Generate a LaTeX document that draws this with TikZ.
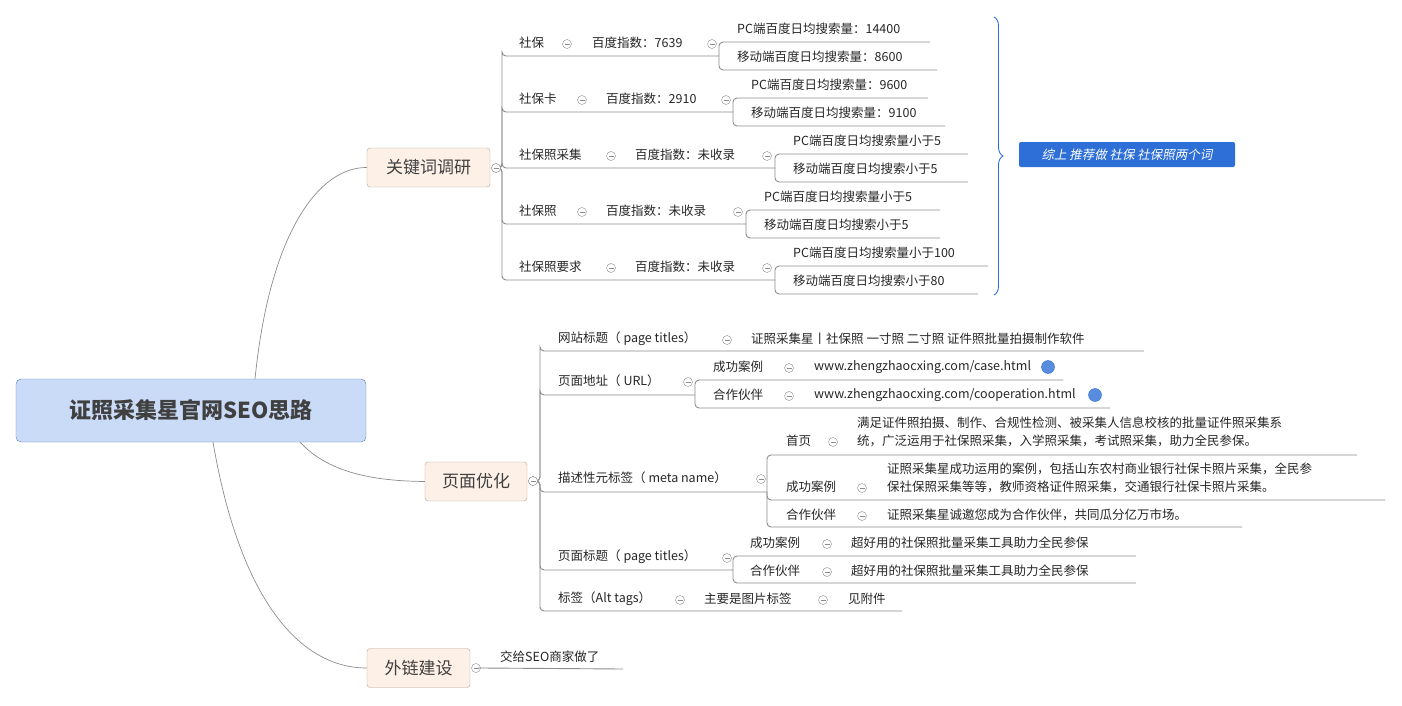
\documentclass[tikz,border=0pt]{standalone}
\usepackage{fontspec}
\setmainfont{Noto Sans CJK SC}
\newfontfamily\slfont[FakeSlant=0.2]{Noto Sans CJK SC}
\usetikzlibrary{decorations.pathreplacing}
\definecolor{ln}{HTML}{8C8C8C}
\definecolor{bfill}{HTML}{FDF0E6}
\definecolor{bdraw}{HTML}{B5A595}
\definecolor{cfill}{HTML}{C9DBF7}
\definecolor{cdraw}{HTML}{5B7DB5}
\definecolor{sumb}{HTML}{2D6FD6}
\tikzset{
  txt/.style={anchor=west,inner sep=0pt,font=\fontsize{12.5pt}{18pt}\selectfont,text=black!85},
  br/.style={draw=bdraw,fill=bfill,rounded corners=3pt,minimum height=39pt,inner sep=0pt,font=\fontsize{17pt}{20pt}\selectfont,text=black!75},
  col/.style={circle,draw=ln,minimum size=9pt,inner sep=0pt,fill=white,
    path picture={\draw[ln] ([xshift=-2.5pt]path picture bounding box.center)--([xshift=2.5pt]path picture bounding box.center);}},
  conn/.style={draw=ln,line width=0.9pt,rounded corners=4pt},
  glb/.style={circle,fill=sumb!80,draw=sumb,minimum size=13pt,inner sep=0pt}
}
\begin{document}
\begin{tikzpicture}[x=1pt,y=-1pt]
\useasboundingbox (0,0) rectangle (1402,706);
% central
\node[draw=cdraw,fill=cfill,rounded corners=5pt,minimum width=350pt,minimum height=63pt,font=\fontsize{22pt}{26pt}\selectfont\bfseries,text=black!75] (root) at (191,410.5) {证照采集星官网SEO思路};
\node[br,minimum width=123pt] (k) at (428.5,167.5) {关键词调研};
\node[br,minimum width=102pt] (p) at (476,481.5) {页面优化};
\node[br,minimum width=103pt] (w) at (418.5,668) {外链建设};
\draw[ln,line width=0.7pt] (255,379) .. controls (270,230) and (320,167) .. (k.west);
\draw[ln,line width=0.7pt] (300,442) .. controls (330,475) and (380,481) .. (p.west);
\draw[ln,line width=0.7pt] (213,442) .. controls (240,600) and (300,668) .. (w.west);
% ---------- keyword branch
\node[col] (kc) at (496,168) {};
\foreach \y/\x in {56/719,112/733,168/775,224/746,280/775}{
  \draw[conn] (kc.east) -- (502,168) |- (502,\y) -- (\x,\y);}
\node[col] at (496,168) {};
% sub spines
\foreach \x/\m/\a/\b/\ea/\eb in {719/56/42/70/930/937,733/112/98/126/928/945,775/168/154/182/968/968,746/224/210/238/940/940,775/280/266/294/988/978}{
  \draw[conn] (\x,\m) |- (\ea,\a);
  \draw[conn] (\x,\m) |- (\eb,\b);}
\node[txt] (k1) at (519,43) {社保};
\node[col] at (567,44) {};
\node[txt] (k1i) at (592,43) {百度指数：7639};
\node[col] at (712,44) {};
\node[txt] at (737,29) {PC端百度日均搜索量：14400};
\node[txt] at (737,57) {移动端百度日均搜索量：8600};
\node[txt] (k2) at (519,99) {社保卡};
\node[col] at (582,100) {};
\node[txt] at (606,99) {百度指数：2910};
\node[col] at (726,100) {};
\node[txt] at (751,85) {PC端百度日均搜索量：9600};
\node[txt] at (751,113) {移动端百度日均搜索量：9100};
\node[txt] (k3) at (519,155) {社保照采集};
\node[col] at (611,156) {};
\node[txt] at (635,155) {百度指数：未收录};
\node[col] at (767,156) {};
\node[txt] at (793,141) {PC端百度日均搜索量小于5};
\node[txt] at (793,169) {移动端百度日均搜索小于5};
\node[txt] (k4) at (519,211) {社保照};
\node[col] at (582,212) {};
\node[txt] at (606,211) {百度指数：未收录};
\node[col] at (738,212) {};
\node[txt] at (764,197) {PC端百度日均搜索量小于5};
\node[txt] at (764,225) {移动端百度日均搜索小于5};
\node[txt] (k5) at (519,267) {社保照要求};
\node[col] at (611,268) {};
\node[txt] at (635,267) {百度指数：未收录};
\node[col] at (767,268) {};
\node[txt] at (793,253) {PC端百度日均搜索量小于100};
\node[txt] at (793,281) {移动端百度日均搜索小于80};
% brace and summary
\coordinate (bt) at (994,17);
\coordinate (bb) at (994,295);
\draw[sumb,line width=0.9pt,decorate,decoration={brace,amplitude=9pt}] (bt) -- (bb);
\node[fill=sumb,rounded corners=2pt,minimum width=216pt,minimum height=25pt,inner sep=0pt,text=white,font=\fontsize{12.5pt}{15pt}\slfont] (sum) at (1127,154.5) {综上 推荐做 社保 社保照两个词};
% ---------- page branch
\node[col] (pc) at (533,481) {};
\foreach \y/\x in {351/1144,395/695,492/767,570/733,611/902}{
  \draw[conn] (pc.east) -- (540,481) |- (540,\y) -- (\x,\y);}
\node[col] at (533,481) {};
\draw[conn] (695,395) |- (1063,380);
\draw[conn] (695,395) |- (1110,408);
\draw[conn] (767,492) |- (1357,455);
\draw[conn] (767,492) |- (1385,500);
\draw[conn] (767,492) |- (1242,527);
\draw[conn] (733,570) |- (1136,556);
\draw[conn] (733,570) |- (1136,583);
\node[txt] at (558,339) {网站标题（ page titles）};
\node[col] at (727,340) {};
\node[txt] at (751,339) {证照采集星丨社保照 一寸照 二寸照 证件照批量拍摄制作软件};
\node[txt] at (558,381) {页面地址（ URL）};
\node[col] at (688,382) {};
\node[txt] at (713,367) {成功案例};
\node[col] at (789,368) {};
\node[txt] at (814,367) {www.zhengzhaocxing.com/case.html};
\node[glb] at (1048,367) {};
\node[txt] at (713,395) {合作伙伴};
\node[col] at (789,396) {};
\node[txt] at (814,395) {www.zhengzhaocxing.com/cooperation.html};
\node[glb] at (1095,395) {};
\node[txt] at (558,478) {描述性元标签（ meta name）};
\node[col] at (761,479) {};
\node[txt] at (786,441) {首页};
\node[col] at (833,442) {};
\node[txt] at (857,423) {满足证件照拍摄、制作、合规性检测、被采集人信息校核的批量证件照采集系};
\node[txt] at (857,441) {统，广泛运用于社保照采集，入学照采集，考试照采集，助力全民参保。};
\node[txt] at (786,487) {成功案例};
\node[col] at (862,488) {};
\node[txt] at (887,469) {证照采集星成功运用的案例，包括山东农村商业银行社保卡照片采集，全民参};
\node[txt] at (887,487) {保社保照采集等等，教师资格证件照采集，交通银行社保卡照片采集。};
\node[txt] at (786,515) {合作伙伴};
\node[col] at (862,516) {};
\node[txt] at (887,515) {证照采集星诚邀您成为合作伙伴，共同瓜分亿万市场。};
\node[txt] at (558,557) {页面标题（ page titles）};
\node[col] at (727,558) {};
\node[txt] at (750,543) {成功案例};
\node[col] at (827,544) {};
\node[txt] at (851,543) {超好用的社保照批量采集工具助力全民参保};
\node[txt] at (750,571) {合作伙伴};
\node[col] at (827,572) {};
\node[txt] at (851,571) {超好用的社保照批量采集工具助力全民参保};
\node[txt] at (558,599) {标签（Alt tags）};
\node[col] at (680,600) {};
\node[txt] at (704,599) {主要是图片标签};
\node[col] at (823,600) {};
\node[txt] at (848,599) {见附件};
% ---------- outer link branch
\node[col] (wc) at (476,668) {};
\draw[conn] (wc.east) -- (482,668) -- (623,669);
\node[txt] at (500,657) {交给SEO商家做了};
\end{tikzpicture}
\end{document}
